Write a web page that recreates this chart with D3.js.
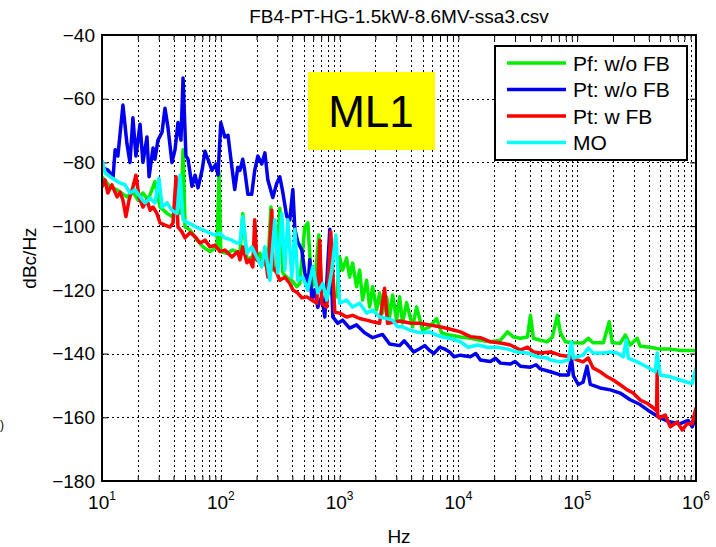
<!DOCTYPE html>
<html>
  <head>
    <meta charset="UTF-8">
    <title>FB4-PT-HG-1.5kW-8.6MV-ssa3</title>
    <script src="https://d3js.org/d3.v7.min.js"></script>
    <style>
      body { margin: 0; background: #fff; }
      text { font-family: "Liberation Sans", Arial, sans-serif; }
    </style>
  </head>
  <body>
    <svg width="716" height="547"></svg>

    <script>

const title = "FB4-PT-HG-1.5kW-8.6MV-ssa3.csv";
const xDecades = [10, 100, 1000, 10000, 100000, 1000000];
const yTicks = [-180, -160, -140, -120, -100, -80, -60, -40];
const seriesNames = ["Pf: w/o FB", "Pt: w/o FB", "Pt: w FB", "MO"];
const seriesColors = ["#00ee00", "#0000ee", "#ff0000", "#00ffff"];

// [Hz, dBc/Hz]
const pfNoFb = [
  [10,-84.5],[11.7,-87.7],[13.4,-88.6],[16.2,-90.8],[18.2,-89.3],[20.1,-91.8],[22.1,-89.6],[24.4,-91.8],
  [27.9,-86],[30.8,-94],[35.3,-96],[38.8,-97],[42.8,-95],[46.2,-96],[48.1,-76],[50.0,-100.3],[55.1,-101.2],
  [63.1,-104.4],[70.8,-106.5],[81.1,-108],[92.9,-106.5],[96.6,-83],[100,-108],[112,-108.5],[126,-107.5],
  [145,-108.5],[153,-96],[166,-110.6],[182,-109.7],[201,-110.6],[213,-108.5],[226,-111.6],[249,-112.8],
  [264,-94],[274,-113.8],[296,-112.8],[314,-94.4],[333,-114.7],[359,-116],[396,-117],[436,-119],[462,-118],
  [509,-100.3],[540,-99],[583,-119],[618,-118],[668,-102.8],[708,-120],[780,-121],[860,-121],[947,-122.2],
  [1000,-109.7],[1060,-113.8],[1145,-110],[1214,-116],[1287,-111.6],[1390,-119],[1474,-113.8],[1561,-123.2],
  [1688,-117],[1789,-125.4],[1896,-119],[2049,-126.3],[2171,-121],[2301,-127.3],[2487,-122.2],[2636,-128.5],
  [2794,-121.6],[3019,-129.5],[3200,-122.2],[3391,-130.4],[3664,-124],[4117,-131.6],[4447,-125.4],[4995,-132.6],
  [5723,-131.6],[6553,-129],[7220,-133.5],[8433,-134.2],[10400,-134.8],[12600,-135.2],[15300,-135.8],
  [18600,-136.3],[22600,-135.8],[25900,-133.2],[29000,-134.8],[33300,-135.2],[38100,-134.8],[40400,-128],
  [42800,-135.2],[49000,-135.8],[56100,-136.3],[61800,-134.8],[68100,-128],[72200,-133.5],[79600,-136.3],
  [92900,-136.6],[112000,-136.7],[124000,-135.2],[136000,-136.6],[166000,-136.6],[186000,-130],[197000,-136.6],
  [230000,-136.8],[254000,-134.2],[279000,-137.3],[320000,-135.2],[339000,-137.7],[412000,-138],[500000,-138.6],
  [607000,-138.6],[736000,-139],[894000,-139],[1000000,-139]
];

const ptNoFb = [
  [10,-81.5],[11.2,-82.4],[12.4,-84.5],[12.9,-76],[13.6,-78],[15.0,-62],[16.2,-74],[17.2,-80],[18.2,-66],
  [19.3,-78],[20.9,-68],[22.1,-80],[23.9,-72],[24.9,-84.5],[26.9,-75.5],[27.9,-79],[29.6,-73],[32.0,-70.5],
  [33.9,-63],[35.9,-69],[38.8,-80],[41.2,-76],[43.6,-67.5],[46.2,-73],[48.1,-53.5],[50.9,-78],[53.0,-79],
  [57.2,-87.5],[60.7,-84],[64.3,-88],[69.5,-82.5],[73.6,-76.5],[78.0,-79],[84.3,-82.5],[91.1,-80.5],[94.7,-84],
  [100,-67.5],[108,-72],[115,-71.5],[124,-81.5],[131,-88.5],[139,-81.5],[145,-82.5],[153,-79],[159,-82.5],
  [169,-90],[182,-90],[193,-82.5],[205,-78],[221,-80.5],[235,-77],[249,-85.5],[274,-91],[296,-86.5],[314,-84.5],
  [333,-89.5],[359,-97],[381,-98],[404,-88.5],[420,-101],[445,-105],[481,-107.5],[509,-114.5],[540,-120],
  [561,-110.5],[583,-123],[618,-120],[655,-125.5],[708,-122],[751,-128.5],[827,-101],[877,-128.5],[966,-130.5],
  [1060,-129.5],[1214,-132],[1390,-131],[1623,-133.5],[1896,-135],[2301,-134],[2636,-137],[3200,-137.5],
  [3500,-136],[3883,-138],[4200,-139.5],[4713,-138.5],[5200,-137.5],[5723,-139],[6200,-140],[6947,-138],
  [7600,-138.5],[8433,-139.5],[9200,-141],[10400,-140.5],[12600,-141],[14000,-140],[15300,-142],[18600,-142.5],
  [20500,-141.5],[22600,-143],[27400,-143.3],[30000,-142.5],[33300,-144],[40400,-144.3],[45000,-143.5],
  [49000,-144.8],[59500,-145.7],[72200,-146.7],[84300,-146.7],[89400,-141.4],[92900,-147],[102000,-149.7],
  [112000,-149],[121000,-144],[129000,-149.7],[156000,-150.8],[190000,-151.4],[230000,-152.4],[279000,-154.5],
  [339000,-156],[412000,-158.3],[500000,-160.2],[607000,-161.5],[736000,-162],[860000,-161],[929000,-163],
  [1000000,-160]
];

const ptFb = [
  [10,-87.7],[10.6,-85.5],[11.2,-89.6],[12.1,-87],[13.4,-90.8],[14.2,-89.3],[15.0,-91.8],[15.9,-97],
  [16.9,-91.8],[18.2,-87.7],[19.3,-84],[20.5,-90.8],[22.1,-94],[23.9,-91.8],[25.4,-95],[26.9,-94],[29.0,-96],
  [30.8,-99],[33.9,-99.7],[37.4,-100.3],[39.6,-99],[42.0,-84.5],[43.6,-100.3],[47.1,-101.8],[50.0,-103.7],
  [55.1,-102],[60.7,-103.3],[66.8,-105.3],[73.6,-104.4],[81.1,-106.5],[89.4,-106],[98.5,-108],[108,-107.5],
  [124,-109.7],[139,-108],[145,-110.6],[153,-106.5],[166,-111.5],[175,-110.6],[186,-112.8],[193,-98],
  [201,-110.6],[221,-111.6],[235,-108.5],[249,-116],[269,-95],[274,-112.8],[296,-114.7],[314,-117],
  [346,-116],[381,-118],[404,-120],[445,-121],[481,-122.5],[530,-122.2],[583,-123.2],[643,-124.2],
  [681,-104.4],[708,-124.2],[780,-125.4],[843,-101.8],[911,-127],[1000,-127.3],[1145,-128.5],[1287,-128],
  [1474,-129],[1688,-129.5],[1896,-130],[2171,-130.5],[2392,-119.5],[2535,-130.5],[3019,-130],[3200,-129.8],
  [3883,-130.4],[4713,-130.5],[5723,-131],[6947,-131.6],[8433,-132.3],[10400,-133.2],[12600,-134.7],
  [15300,-135],[18600,-136.3],[22600,-136.7],[27400,-137.3],[33300,-138.9],[38100,-138],[42800,-139.5],
  [49000,-139.8],[59500,-139.5],[72200,-140.5],[87700,-141],[100000,-142],[112000,-142.6],[124000,-141.4],
  [136000,-144.5],[156000,-145.7],[179000,-147.3],[201000,-148.3],[230000,-149.8],[264000,-151.4],
  [296000,-152.4],[339000,-154.6],[388000,-155.6],[436000,-157],[466000,-158],[471000,-145.5],[476000,-159.5],
  [490000,-160.2],[551000,-159.3],[607000,-163],[695000,-161.5],[766000,-164],[843000,-162],[929000,-162],
  [1000000,-157]
];

const mo = [
  [10,-79.3],[10.6,-83.3],[11.7,-84.5],[12.9,-85.5],[14.2,-86.5],[15.6,-87],[17.2,-89.6],[19.0,-88.6],
  [20.9,-90.8],[23.0,-92.7],[25.4,-91.2],[27.9,-92.7],[30.2,-85],[32.0,-94],[35.3,-92.7],[38.8,-95],
  [42.8,-96],[45.4,-84],[48.1,-98],[53.0,-99],[58.3,-99.7],[64.3,-100.6],[70.8,-101.2],[81.1,-102.2],
  [89.4,-102.8],[98.5,-102.2],[108,-103.7],[124,-104.4],[136,-105.3],[145,-105.3],[153,-97],[166,-108.5],
  [182,-106.5],[201,-109.7],[221,-112.8],[235,-106.5],[259,-117],[285,-98],[302,-114.7],[326,-96],
  [346,-113.8],[366,-98],[396,-116],[420,-101],[445,-117],[490,-116],[540,-120],[595,-112.8],[655,-121],
  [722,-118],[780,-123.2],[860,-113.8],[929,-102.8],[1000,-124.2],[1145,-123.2],[1287,-125.4],[1474,-124.2],
  [1688,-127.3],[1896,-126.3],[2171,-128.5],[2487,-129],[2794,-129.5],[3078,-131.6],[3391,-131.6],
  [3883,-132.6],[4447,-133.2],[4995,-133.5],[5723,-133.2],[6553,-134.2],[7362,-134.8],[8433,-135.2],
  [10400,-136.3],[12100,-138],[14500,-137.3],[17500,-138],[21300,-138],[25900,-138.6],[31400,-139.5],
  [38100,-139.8],[46200,-141],[56100,-141.4],[59500,-142],[72200,-142.6],[84300,-142],[89400,-136.4],
  [92900,-141.4],[112000,-140.5],[124000,-138.3],[136000,-139.8],[166000,-139.8],[190000,-139.5],
  [217000,-139.8],[244000,-141],[259000,-135.8],[269000,-141.4],[320000,-142.6],[388000,-144.2],
  [454000,-145.7],[471000,-139.8],[500000,-146.7],[607000,-147.3],[736000,-148.3],[843000,-149],
  [929000,-149.4],[1000000,-144.5]
];

const allSeries = [pfNoFb, ptNoFb, ptFb, mo];

      const svg = d3.select("svg");
      const margin = { top: 35, right: 20, bottom: 66, left: 102 };
      const width = +svg.attr("width");
      const height = +svg.attr("height");
      const plotW = width - margin.left - margin.right;
      const plotH = height - margin.top - margin.bottom;

      const x = d3.scaleLog().domain([10, 1e6]).range([0, plotW]);
      const y = d3.scaleLinear().domain([-180, -40]).range([plotH, 0]);

      const g = svg.append("g")
        .attr("transform", `translate(${margin.left},${margin.top})`);

      // dotted grid
      const minorX = x.ticks().filter(v => v > 10 && v < 1e6);
      g.append("g")
        .attr("shape-rendering", "crispEdges")
        .selectAll("line")
        .data(minorX)
        .join("line")
        .attr("x1", d => Math.round(x(d)) + 0.5).attr("x2", d => Math.round(x(d)) + 0.5)
        .attr("y1", 0).attr("y2", plotH)
        .attr("stroke", "#000")
        .attr("stroke-width", 1.3)
        .attr("stroke-dasharray", "2,3");

      g.append("g")
        .attr("shape-rendering", "crispEdges")
        .selectAll("line")
        .data(yTicks.slice(1, -1))
        .join("line")
        .attr("x1", 0).attr("x2", plotW)
        .attr("y1", d => Math.round(y(d)) + 0.5).attr("y2", d => Math.round(y(d)) + 0.5)
        .attr("stroke", "#000")
        .attr("stroke-width", 1.3)
        .attr("stroke-dasharray", "2,3");

      // inward ticks on all sides
      g.append("g").attr("transform", `translate(0,${plotH})`)
        .call(d3.axisBottom(x).tickValues(x.ticks()).tickSize(-5).tickFormat(""))
        .call(a => a.select(".domain").remove());
      g.append("g")
        .call(d3.axisTop(x).tickValues(x.ticks()).tickSize(-5).tickFormat(""))
        .call(a => a.select(".domain").remove());
      g.append("g")
        .call(d3.axisLeft(y).tickValues(yTicks).tickSize(-6).tickFormat(""))
        .call(a => a.select(".domain").remove());
      g.append("g").attr("transform", `translate(${plotW},0)`)
        .call(d3.axisRight(y).tickValues(yTicks).tickSize(-6).tickFormat(""))
        .call(a => a.select(".domain").remove());

      // series
      g.append("clipPath").attr("id", "clip")
        .append("rect").attr("width", plotW).attr("height", plotH);

      const line = d3.line()
        .x(d => x(d[0]))
        .y(d => y(d[1]));

      g.append("g")
        .attr("clip-path", "url(#clip)")
        .selectAll("path")
        .data(allSeries)
        .join("path")
        .attr("d", line)
        .attr("fill", "none")
        .attr("stroke", (d, i) => seriesColors[i])
        .attr("stroke-width", 3.5)
        .attr("stroke-linejoin", "round");

      // frame
      g.append("rect")
        .attr("width", plotW).attr("height", plotH)
        .attr("fill", "none")
        .attr("stroke", "#000")
        .attr("stroke-width", 2);

      // y labels
      g.append("g")
        .selectAll("text")
        .data(yTicks)
        .join("text")
        .attr("x", -7)
        .attr("y", d => y(d))
        .attr("dy", "0.35em")
        .attr("text-anchor", "end")
        .attr("font-size", 19)
        .text(d => d < 0 ? "\u2212" + Math.abs(d) : d);

      // x labels with exponent
      const xl = g.append("g")
        .selectAll("text")
        .data(xDecades)
        .join("text")
        .attr("x", d => x(d))
        .attr("y", plotH + 28)
        .attr("text-anchor", "middle")
        .attr("font-size", 19);
      xl.append("tspan").text("10");
      xl.append("tspan")
        .attr("font-size", 12)
        .attr("dy", -9)
        .text(d => Math.round(Math.log10(d)));

      svg.append("text")
        .attr("x", margin.left + plotW / 2)
        .attr("y", 543)
        .attr("text-anchor", "middle")
        .attr("font-size", 19)
        .text("Hz");

      svg.append("text")
        .attr("transform", `translate(36,${margin.top + plotH / 2}) rotate(-90)`)
        .attr("text-anchor", "middle")
        .attr("font-size", 19)
        .text("dBc/Hz");

      svg.append("text")
        .attr("x", margin.left + plotW / 2)
        .attr("y", 23)
        .attr("text-anchor", "middle")
        .attr("font-size", 19)
        .text(title);

      // small mark at the left edge, as in the reference
      svg.append("text")
        .attr("x", 0)
        .attr("y", 429)
        .attr("font-size", 12)
        .text(")");

      // ML1 tag
      const tag = g.append("g").attr("transform", "translate(206,37)");
      tag.append("rect")
        .attr("width", 127).attr("height", 78)
        .attr("fill", "#ffff00");
      tag.append("text")
        .attr("x", 63).attr("y", 55)
        .attr("text-anchor", "middle")
        .attr("font-size", 44)
        .text("ML1");

      // legend
      const legend = g.append("g").attr("transform", "translate(393,11)");
      legend.append("rect")
        .attr("width", 192).attr("height", 114)
        .attr("fill", "#fff")
        .attr("stroke", "#000")
        .attr("stroke-width", 2);
      const item = legend.selectAll("g.item")
        .data(seriesNames)
        .join("g")
        .attr("class", "item")
        .attr("transform", (d, i) => `translate(0,${17 + i * 26.5})`);
      item.append("line")
        .attr("x1", 12).attr("x2", 71)
        .attr("stroke", (d, i) => seriesColors[i])
        .attr("stroke-width", 3.5);
      item.append("text")
        .attr("x", 78)
        .attr("dy", "0.36em")
        .attr("font-size", 21)
        .text(d => d);

    </script>
  </body>
</html>
